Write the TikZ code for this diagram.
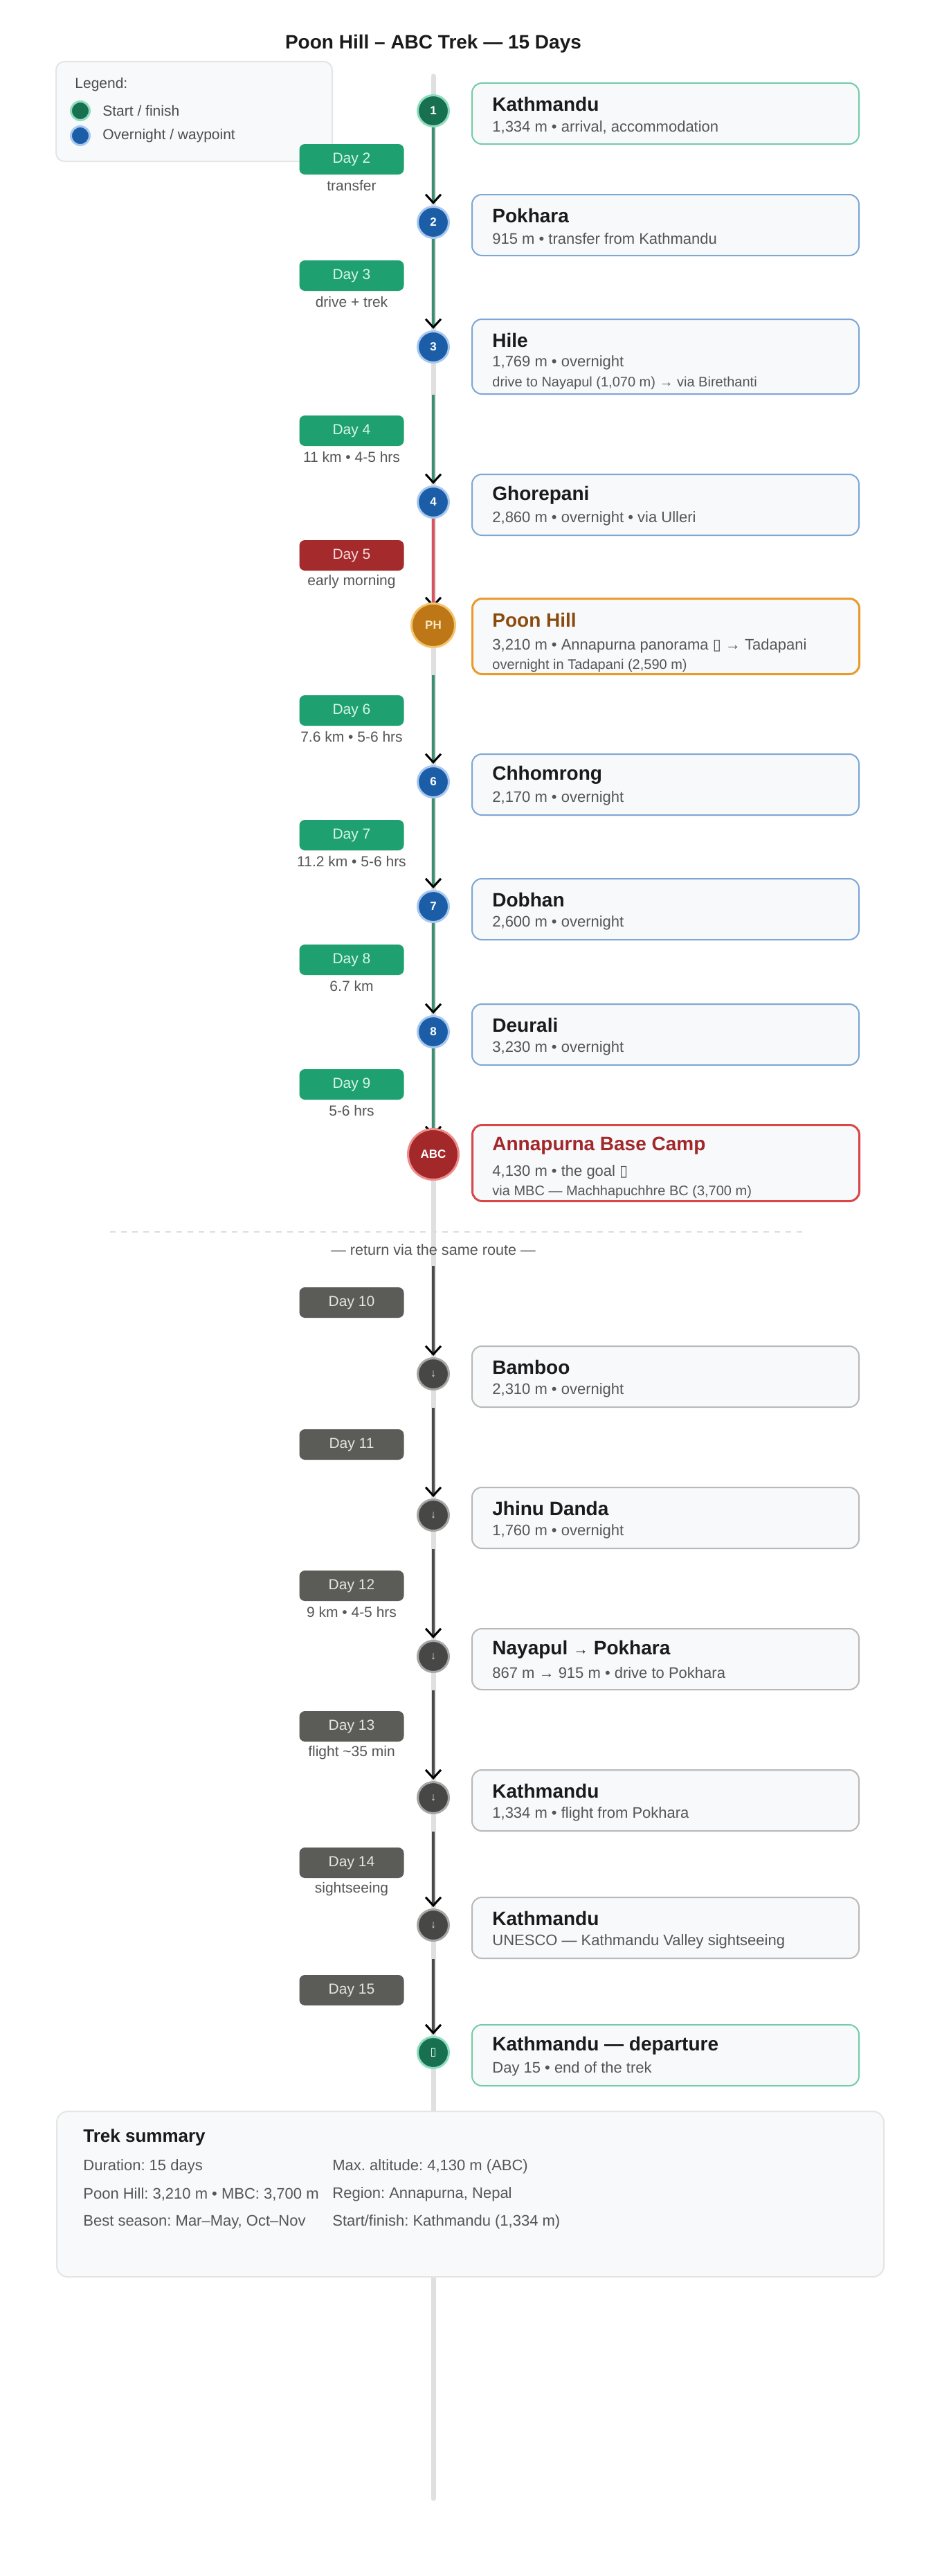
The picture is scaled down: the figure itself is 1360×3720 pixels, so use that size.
\documentclass[tikz,border=0pt]{standalone}
\usepackage{fontspec}
\setmainfont{Liberation Sans}
\newfontfamily\symfont{DejaVu Sans}
\usetikzlibrary{calc,arrows.meta,backgrounds}
\frenchspacing

\definecolor{startfill}{HTML}{17704F}
\definecolor{startring}{HTML}{8FDCC0}
\definecolor{wayfill}{HTML}{1B5EA7}
\definecolor{wayring}{HTML}{A8C8EF}
\definecolor{phfill}{HTML}{BE7716}
\definecolor{phring}{HTML}{F5C46E}
\definecolor{abcfill}{HTML}{A2282A}
\definecolor{abcring}{HTML}{EE8C8C}
\definecolor{backfill}{HTML}{474745}
\definecolor{backring}{HTML}{A6A6A6}
\definecolor{gofill}{HTML}{1FA070}
\definecolor{gotext}{HTML}{D8F7E9}
\definecolor{hardfill}{HTML}{A42A2C}
\definecolor{hardtext}{HTML}{FBDADA}
\definecolor{backpill}{HTML}{5B5B57}
\definecolor{linegreen}{HTML}{3B8F6F}
\definecolor{linered}{HTML}{D9535E}
\definecolor{linegray}{HTML}{4A4A4A}
\definecolor{cardfill}{HTML}{F7F9FB}
\definecolor{greencard}{HTML}{74CBA9}
\definecolor{bluecard}{HTML}{7DA7D4}
\definecolor{orangecard}{HTML}{E99B2C}
\definecolor{redcard}{HTML}{D8474A}
\definecolor{graycard}{HTML}{B9B9B9}
\definecolor{titleblack}{HTML}{1A1A1A}
\definecolor{phtitle}{HTML}{8B4B0E}
\definecolor{txtgray}{HTML}{555555}
\definecolor{panelfill}{HTML}{F8F9FA}
\definecolor{panelline}{HTML}{E5E5E5}
\definecolor{track}{HTML}{E0E0E0}
\definecolor{sepline}{HTML}{DDDDDD}

\tikzset{x=0.5pt, y=-0.5pt,
	stop/.style={circle, line width=1.5pt, minimum size=22.5pt, inner sep=0pt,
		text=white, font=\bfseries\fontsize{8.5}{10}\selectfont},
	start stop/.style={stop, fill=startfill, draw=startring},
	way stop/.style={stop, fill=wayfill, draw=wayring},
	back stop/.style={stop, fill=backfill, draw=backring, text=white!85!black,
		font=\fontsize{8}{10}\selectfont},
	card/.style={rounded corners=7pt, fill=cardfill, line width=1pt, anchor=north west,
		minimum width=279.5pt, minimum height=44pt, inner sep=0pt},
	panel/.style={rounded corners=6pt, fill=panelfill, draw=panelline, line width=1pt,
		anchor=north west, inner sep=0pt},
	card title/.style={anchor=west, inner sep=0pt, text=titleblack,
		font=\bfseries\fontsize{14}{16}\selectfont},
	card text/.style={anchor=west, inner sep=0pt, text=txtgray, font=\fontsize{11}{13}\selectfont},
	card note/.style={anchor=west, inner sep=0pt, text=txtgray, font=\fontsize{10}{12}\selectfont},
	day pill/.style={rounded corners=4pt, minimum width=75.5pt, minimum height=22pt,
		inner sep=0pt, font=\fontsize{10.5}{12}\selectfont},
	pill go/.style={fill=gofill, text=gotext},
	pill hard/.style={fill=hardfill, text=hardtext},
	pill back/.style={fill=backpill, text=white!90!black},
	day note/.style={text=txtgray, inner sep=0pt, font=\fontsize{10.5}{12}\selectfont},
	link/.style={line width=2pt, shorten >=1pt,
		-{Straight Barb[length=6pt, width=11pt, line width=1.5pt, color=black]}}
}

% stop on the line and its card
\def\Row#1#2#3#4#5#6#7{%
	\node[#3] (#1) at (626,#2) {#4};
	\node[card, draw=#5] (#1 card) at (681,#2-41) {};
	\node[card title] (#1 title) at ($(#1 card.north west)+(30,31)$) {#6};
	\node[card text] (#1 info) at ($(#1 card.north west)+(30,65)$) {#7};
}

\begin{document}
\begin{tikzpicture}
\useasboundingbox (0,0) rectangle (1360,3720);

\node[font=\bfseries\fontsize{14}{16}\selectfont, text=titleblack] (header) at (626,63)
	{Poon Hill – ABC Trek — 15 Days};

% legend
\node[panel, minimum width=199.5pt, minimum height=72pt] (legend) at (80,88) {};
\node[card text, text=black!70, font=\fontsize{10.5}{12}\selectfont] (legend title) at (108,122) {Legend:};
\node[start stop, minimum size=13.5pt] (leg start) at (116,160) {};
\node[way stop, minimum size=13.5pt] (leg way) at (116,196) {};
\node[card text, text=black!70, font=\fontsize{10.5}{12}\selectfont] (leg start text) at (148,160) {Start / finish};
\node[card text, text=black!70, font=\fontsize{10.5}{12}\selectfont] (leg way text) at (148,196) {Overnight / waypoint};

% way up
\Row{k1}{160}{start stop}{1}{greencard}{Kathmandu}{1,334 m • arrival, accommodation}
\Row{pk}{321}{way stop}{2}{bluecard}{Pokhara}{915 m • transfer from Kathmandu}

\node[way stop] (hl) at (626,501) {3};
\node[card, draw=bluecard, minimum height=54pt] (hl card) at (681,460) {};
\node[card title] (hl title) at (711,491) {Hile};
\node[card text] (hl info) at (711,524) {1,769 m • overnight};
\node[card note] (hl note) at (711,553) {drive to Nayapul (1,070 m) → via Birethanti};

\Row{gp}{725}{way stop}{4}{bluecard}{Ghorepani}{2,860 m • overnight • via Ulleri}

\node[stop, minimum size=31.5pt, fill=phfill, draw=phring, text=phring!40!white] (ph) at (626,903) {PH};
\node[card, draw=orangecard, line width=1.5pt, minimum height=54.5pt] (ph card) at (681,863) {};
\node[card title, text=phtitle] (ph title) at (711,895) {Poon Hill};
\node[card text] (ph info) at (711,933) {3,210 m • Annapurna panorama {\symfont ▯} → Tadapani};
\node[card note] (ph note) at (711,961) {overnight in Tadapani (2,590 m)};

\Row{ch}{1129}{way stop}{6}{bluecard}{Chhomrong}{2,170 m • overnight}
\Row{db}{1309}{way stop}{7}{bluecard}{Dobhan}{2,600 m • overnight}
\Row{dr}{1490}{way stop}{8}{bluecard}{Deurali}{3,230 m • overnight}

\node[stop, minimum size=36.5pt, fill=abcfill, draw=abcring] (abc) at (626,1667) {ABC};
\node[card, draw=redcard, line width=1.5pt, minimum height=55pt] (abc card) at (681,1623) {};
\node[card title, text=abcfill] (abc title) at (711,1655) {Annapurna Base Camp};
\node[card text] (abc info) at (711,1693) {4,130 m • the goal {\symfont ▯}};
\node[card note] (abc note) at (711,1721) {via MBC — Machhapuchhre BC (3,700 m)};

% way back
\draw[sepline, line width=1pt, dash pattern=on 4pt off 4pt] (159,1779) -- (1161,1779);
\node[day note, font=\fontsize{10.8}{12}\selectfont] (return) at (626,1805) {— return via the same route —};
\coordinate (ret) at (626,1828);

\Row{bb}{1984}{back stop}{↓}{graycard}{Bamboo}{2,310 m • overnight}
\Row{jd}{2188}{back stop}{↓}{graycard}{Jhinu Danda}{1,760 m • overnight}
\Row{np}{2392}{back stop}{↓}{graycard}{Nayapul {\mdseries\fontsize{11}{13}\selectfont →} Pokhara}{867 m → 915 m • drive to Pokhara}
\Row{kt}{2596}{back stop}{↓}{graycard}{Kathmandu}{1,334 m • flight from Pokhara}
\Row{kv}{2780}{back stop}{↓}{graycard}{Kathmandu}{UNESCO — Kathmandu Valley sightseeing}
\Row{kd}{2964}{start stop}{\symfont\fontsize{8}{10}\selectfont ▯}{greencard}{Kathmandu — departure}{Day 15 • end of the trek}

% day pills
\foreach \d/\y/\s in {2/230/go, 3/398/go, 4/622/go, 5/802/hard, 6/1026/go, 7/1206/go,
	8/1386/go, 9/1566/go, 10/1881/back, 11/2086/back, 12/2290/back, 13/2493/back,
	14/2690/back, 15/2874/back}
	\node[day pill, pill \s] (day\d) at (508,\y) {Day \d};
\foreach \d/\t in {2/transfer, 3/drive + trek, 4/11 km • 4-5 hrs, 5/early morning,
	6/7.6 km • 5-6 hrs, 7/11.2 km • 5-6 hrs, 8/6.7 km, 9/5-6 hrs, 12/9 km • 4-5 hrs,
	13/flight \textasciitilde35 min, 14/sightseeing}
	\node[day note] (note\d) at ($(day\d)+(0,38)$) {\t};

% summary
\node[panel, rounded corners=8pt, minimum width=597.5pt, minimum height=119.5pt] (summary) at (81,3048) {};
\node[card title, font=\bfseries\fontsize{13}{15}\selectfont] (sum title) at (120,3087) {Trek summary};
\node[card text] (sum a) at (120,3129) {Duration: 15 days};
\node[card text] (sum b) at (120,3169) {Poon Hill: 3,210 m • MBC: 3,700 m};
\node[card text] (sum c) at (120,3209) {Best season: Mar–May, Oct–Nov};
\node[card text] (sum d) at (480,3129) {Max. altitude: 4,130 m (ABC)};
\node[card text] (sum e) at (480,3169) {Region: Annapurna, Nepal};
\node[card text] (sum f) at (480,3209) {Start/finish: Kathmandu (1,334 m)};

\begin{scope}[on background layer]
	\fill[white] (0,0) rectangle (1360,3720);
	\draw[track, line width=3.5pt, line cap=round] (626,110) -- (626,3608);
	\draw[link, draw=linegreen] (k1.south) -- (pk.north);
	\draw[link, draw=linegreen] (pk.south) -- (hl.north);
	\draw[link, draw=linegreen] (hl |- hl card.south) -- (gp.north);
	\draw[link, draw=linered] (gp.south) -- ($(ph)+(0,-24)$);
	\draw[link, draw=linegreen] (ph |- ph card.south) -- (ch.north);
	\draw[link, draw=linegreen] (ch.south) -- (db.north);
	\draw[link, draw=linegreen] (db.south) -- (dr.north);
	\draw[link, draw=linegreen] (dr.south) -- ($(abc)+(0,-24)$);
	\draw[link, draw=linegray] (ret) -- (bb.north);
	\draw[link, draw=linegray] (bb |- bb card.south) -- (jd.north);
	\draw[link, draw=linegray] (jd |- jd card.south) -- (np.north);
	\draw[link, draw=linegray] (np |- np card.south) -- (kt.north);
	\draw[link, draw=linegray] (kt |- kt card.south) -- (kv.north);
	\draw[link, draw=linegray] (kv |- kv card.south) -- (kd.north);
\end{scope}
\end{tikzpicture}
\end{document}
